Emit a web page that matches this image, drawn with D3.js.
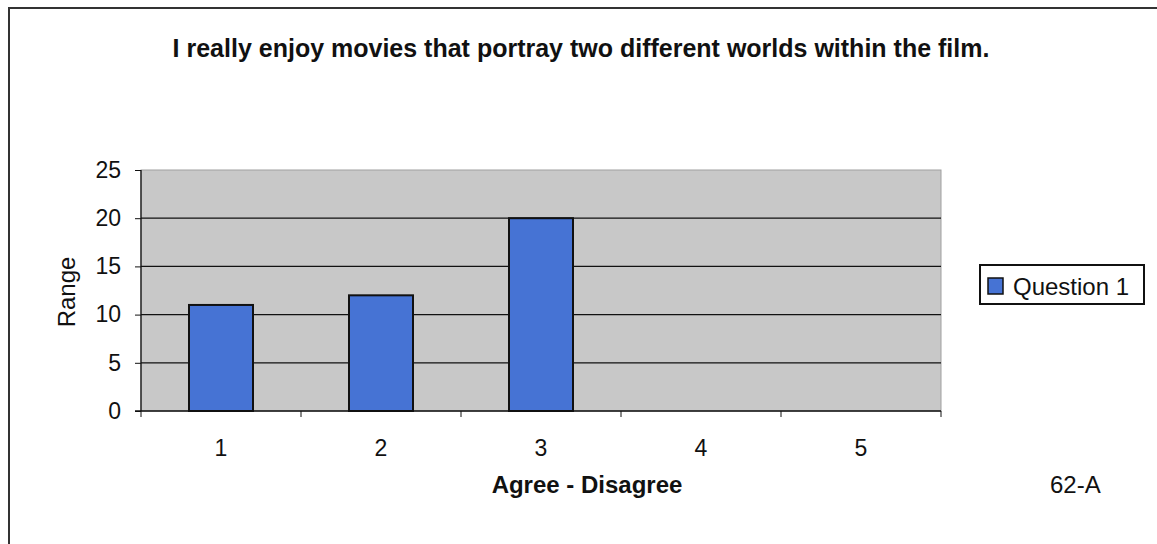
<!DOCTYPE html>
<html>
<head>
<meta charset="utf-8">
<script src="https://cdn.jsdelivr.net/npm/d3@7"></script>
<style>
  html, body { margin: 0; padding: 0; background: #fff; }
  svg { display: block; font-family: "Liberation Sans", Arial, sans-serif; }
</style>
</head>
<body>
<svg id="chart" width="1157" height="544"></svg>
<script>
const categories = ["1", "2", "3", "4", "5"];
const values = [11, 12, 20, 0, 0];
const yTicks = [0, 5, 10, 15, 20, 25];
const seriesName = "Question 1";
const titleText = "I really enjoy movies that portray two different worlds within the film.";
const xTitle = "Agree - Disagree";
const yTitle = "Range";
const pageNote = "62-A";

const svg = d3.select("#chart");
const W = 1157, H = 544;
const plot = { left: 141, right: 941, top: 170, bottom: 411 };
const FONT = "Liberation Sans, Arial, sans-serif";

// outer frame (top and left edges visible)
svg.append("line").attr("x1", 8).attr("x2", W).attr("y1", 8).attr("y2", 8)
  .attr("stroke", "#333").attr("stroke-width", 2);
svg.append("line").attr("x1", 9).attr("x2", 9).attr("y1", 7).attr("y2", H)
  .attr("stroke", "#333").attr("stroke-width", 2);

const x = d3.scaleBand().domain(categories).range([plot.left, plot.right]).paddingInner(0).paddingOuter(0);
const y = d3.scaleLinear().domain([0, 25]).range([plot.bottom, plot.top]);

// plot area background
svg.append("rect").attr("x", plot.left).attr("y", plot.top)
  .attr("width", plot.right - plot.left).attr("height", plot.bottom - plot.top)
  .attr("fill", "#c8c8c8").attr("stroke", "#a0a0a0").attr("stroke-width", 1);

// gridlines
svg.append("g").selectAll("line").data(yTicks.filter(d => d > 0 && d < 25)).join("line")
  .attr("x1", plot.left).attr("x2", plot.right)
  .attr("y1", d => y(d)).attr("y2", d => y(d))
  .attr("stroke", "#111").attr("stroke-width", 1.3);

// bars
const barW = x.bandwidth() / 2.5;
svg.append("g").selectAll("rect").data(categories.map((c, i) => ({ c, v: values[i] })).filter(d => d.v > 0)).join("rect")
  .attr("x", d => x(d.c) + (x.bandwidth() - barW) / 2)
  .attr("y", d => y(d.v))
  .attr("width", barW)
  .attr("height", d => y(0) - y(d.v))
  .attr("fill", "#4673d4").attr("stroke", "#111").attr("stroke-width", 2);

// y axis
const yAxis = d3.axisLeft(y).tickValues(yTicks).tickSize(6).tickPadding(14);
const gy = svg.append("g").attr("transform", `translate(${plot.left},0)`).call(yAxis);
gy.attr("font-size", null).attr("font-family", null);
gy.select(".domain").attr("stroke", "#111").attr("stroke-width", 1.3).attr("d", `M0,${plot.top}V${plot.bottom}`);
gy.selectAll(".tick line").attr("stroke", "#111");
gy.selectAll(".tick text").attr("font-size", 23).attr("fill", "#111").attr("font-family", FONT);

// x axis (ticks at category boundaries)
const gx = svg.append("g").attr("transform", `translate(0,${plot.bottom})`);
gx.append("line").attr("x1", plot.left - 6).attr("x2", plot.right).attr("y1", 0).attr("y2", 0)
  .attr("stroke", "#111").attr("stroke-width", 1.3);
const bounds = categories.map(c => x(c)).concat([x(categories[categories.length - 1]) + x.bandwidth()]);
gx.selectAll("line.tk").data(bounds).join("line").attr("class", "tk")
  .attr("x1", d => d).attr("x2", d => d).attr("y1", 0).attr("y2", 6)
  .attr("stroke", "#111").attr("stroke-width", 1);
gx.selectAll("text").data(categories).join("text")
  .attr("x", d => x(d) + x.bandwidth() / 2).attr("y", 45)
  .attr("text-anchor", "middle").attr("font-size", 23).attr("fill", "#111").text(d => d);

// titles
svg.append("text").attr("x", 581).attr("y", 57).attr("text-anchor", "middle")
  .attr("font-size", 25).attr("font-weight", "bold").attr("fill", "#111").text(titleText);
svg.append("text").attr("x", 587).attr("y", 493).attr("text-anchor", "middle")
  .attr("font-size", 24).attr("font-weight", "bold").attr("fill", "#111").text(xTitle);
svg.append("text").attr("transform", "translate(75,292) rotate(-90)").attr("text-anchor", "middle")
  .attr("font-size", 24).attr("fill", "#111").text(yTitle);
svg.append("text").attr("x", 1050).attr("y", 493).attr("text-anchor", "start")
  .attr("font-size", 24).attr("fill", "#111").text(pageNote);

// legend
const lg = svg.append("g").attr("transform", "translate(980,265)");
lg.append("rect").attr("width", 164).attr("height", 39).attr("fill", "#fff")
  .attr("stroke", "#111").attr("stroke-width", 2);
lg.append("rect").attr("x", 8).attr("y", 13).attr("width", 15).attr("height", 16)
  .attr("fill", "#4673d4").attr("stroke", "#111").attr("stroke-width", 1.5);
lg.append("text").attr("x", 33).attr("y", 30).attr("font-size", 24).attr("fill", "#111").text(seriesName);
</script>
</body>
</html>
